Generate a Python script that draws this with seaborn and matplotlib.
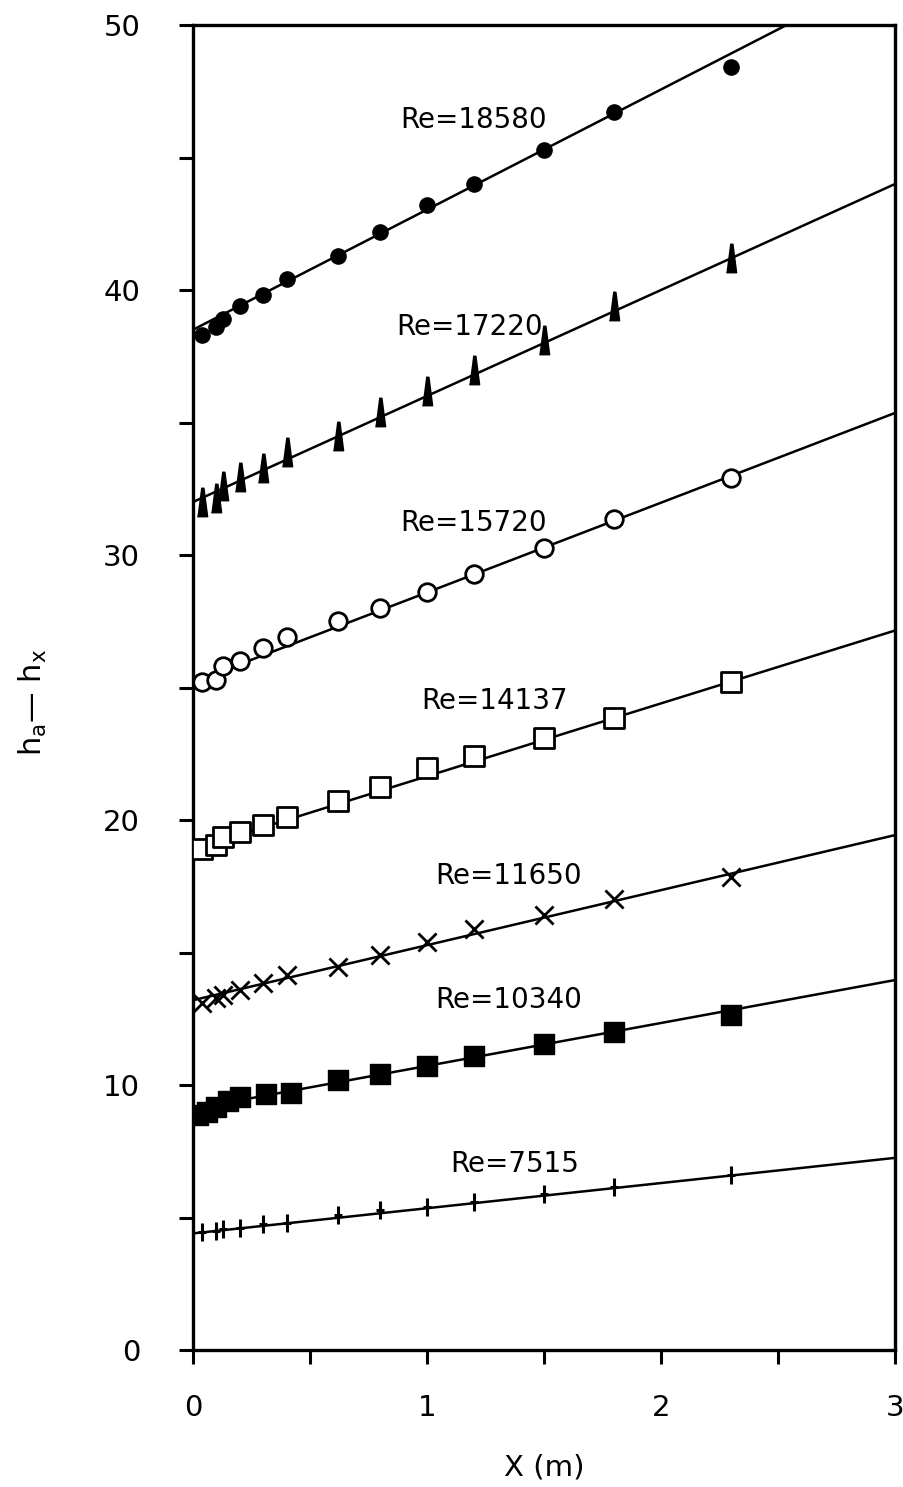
import numpy as np
import pandas as pd
import matplotlib
matplotlib.use("Agg")
import matplotlib.pyplot as plt
from matplotlib.path import Path
import seaborn as sns

# ---------------- data ----------------
x_pts = [0.04, 0.1, 0.13, 0.2, 0.3, 0.4, 0.62, 0.8, 1.0, 1.2, 1.5, 1.8, 2.3]
x_pts_10340 = [0.02, 0.06, 0.1, 0.15, 0.2, 0.31, 0.42, 0.62, 0.8, 1.0, 1.2, 1.5, 1.8, 2.3]

y_18580 = [38.3, 38.6, 38.9, 39.4, 39.8, 40.4, 41.3, 42.2, 43.2, 44.0, 45.3, 46.7, 48.4]
y_17220 = [32.0, 32.15, 32.6, 32.95, 33.3, 33.9, 34.5, 35.4, 36.2, 37.0, 38.1, 39.4, 41.2]
y_15720 = [25.2, 25.3, 25.8, 26.0, 26.5, 26.9, 27.5, 28.0, 28.6, 29.3, 30.25, 31.35, 32.9]
y_14137 = [18.9, 19.05, 19.35, 19.55, 19.8, 20.1, 20.7, 21.25, 21.96, 22.4, 23.1, 23.85, 25.2]
y_11650 = [13.1, 13.3, 13.4, 13.6, 13.85, 14.15, 14.45, 14.9, 15.4, 15.9, 16.4, 17.02, 17.86]
y_10340 = [8.87, 9.0, 9.18, 9.4, 9.55, 9.66, 9.7, 10.2, 10.4, 10.7, 11.1, 11.55, 12.01, 12.64]
y_7515 = [4.46, 4.5, 4.55, 4.6, 4.75, 4.8, 5.09, 5.3, 5.4, 5.6, 5.9, 6.15, 6.6]

re_labels = ["Re=18580", "Re=17220", "Re=15720", "Re=14137", "Re=11650", "Re=10340", "Re=7515"]
# fitted straight lines: value at X=0 and at X=3
line_x = [0.0, 3.0]
line_start = [38.5, 32.0, 25.2, 18.9, 13.2, 9.1, 4.4]
line_end = [52.1, 44.0, 35.36, 27.15, 19.43, 13.96, 7.25]
# label anchor positions (data coords, text centre)
label_x = [1.2, 1.18, 1.2, 1.29, 1.35, 1.35, 1.375]
label_y = [46.4, 38.6, 31.2, 24.5, 17.9, 13.2, 7.0]

x_ticks = [0, 0.5, 1, 1.5, 2, 2.5, 3]
x_ticklabels = ["0", "", "1", "", "2", "", "3"]
y_ticks = [0, 5, 10, 15, 20, 25, 30, 35, 40, 45, 50]
y_ticklabels = ["0", "", "10", "", "20", "", "30", "", "40", "", "50"]

# ---------------- style ----------------
sns.set_style("ticks")
plt.rcParams["font.family"] = ["DejaVu Sans"]

fig = plt.figure(figsize=(9.04, 14.87), dpi=100)
ax = fig.add_axes([193 / 904, 1 - 1350 / 1487, (895 - 193) / 904, (1350 - 25) / 1487])

# fit lines
for a, b in zip(line_start, line_end):
    sns.lineplot(x=line_x, y=[a, b], color="black", linewidth=1.8, ax=ax, zorder=2)

# custom markers
spike = [(-0.18, -0.5), (0.18, -0.5), (0.05, 0.5), (-0.05, 0.5)]
plus_tall = Path([(0, -1), (0, 1), (-0.45, 0), (0.45, 0)],
                 [Path.MOVETO, Path.LINETO, Path.MOVETO, Path.LINETO])

sns.scatterplot(x=x_pts, y=y_18580, marker="o", s=120, color="black",
                edgecolor="black", linewidth=1, ax=ax, zorder=3, clip_on=False)
sns.scatterplot(x=x_pts, y=y_17220, marker=spike, s=420, color="black",
                edgecolor="black", linewidth=1, ax=ax, zorder=3)
sns.scatterplot(x=x_pts, y=y_15720, marker="o", s=160, facecolor="white",
                edgecolor="black", linewidth=2, ax=ax, zorder=3)
sns.scatterplot(x=x_pts, y=y_14137, marker="s", s=190, facecolor="white",
                edgecolor="black", linewidth=2, ax=ax, zorder=3)
sns.scatterplot(x=x_pts, y=y_11650, marker="x", s=170, color="black",
                linewidth=2, ax=ax, zorder=3)
sns.scatterplot(x=x_pts_10340, y=y_10340, marker="s", s=190, color="black",
                edgecolor="black", linewidth=1, ax=ax, zorder=3)
sns.scatterplot(x=x_pts, y=y_7515, marker=plus_tall, s=170, color="black",
                edgecolor="black", linewidth=2.2, ax=ax, zorder=3)

for t, lx, ly in zip(re_labels, label_x, label_y):
    ax.text(lx, ly, t, ha="center", va="center", fontsize=20, color="black")

ax.set_xlim(0, 3)
ax.set_ylim(0, 50)
ax.set_xticks(x_ticks)
ax.set_xticklabels(x_ticklabels)
ax.set_yticks(y_ticks)
ax.set_yticklabels(y_ticklabels)
ax.tick_params(axis="both", direction="out", length=10, width=2.2,
               labelsize=21, colors="black")
ax.tick_params(axis="x", pad=22)
ax.tick_params(axis="y", pad=28)
for sp in ax.spines.values():
    sp.set_visible(True)
    sp.set_linewidth(2.4)
    sp.set_color("black")

ax.set_xlabel("X (m)", fontsize=21, color="black")
ax.xaxis.set_label_coords(0.5, -0.078)
ax.set_ylabel(r"h$_\mathregular{a}$— h$_\mathregular{x}$", fontsize=22, color="black")
ax.yaxis.set_label_coords(-0.205, 0.489)

fig.savefig("out.png", dpi=100, facecolor="white")
